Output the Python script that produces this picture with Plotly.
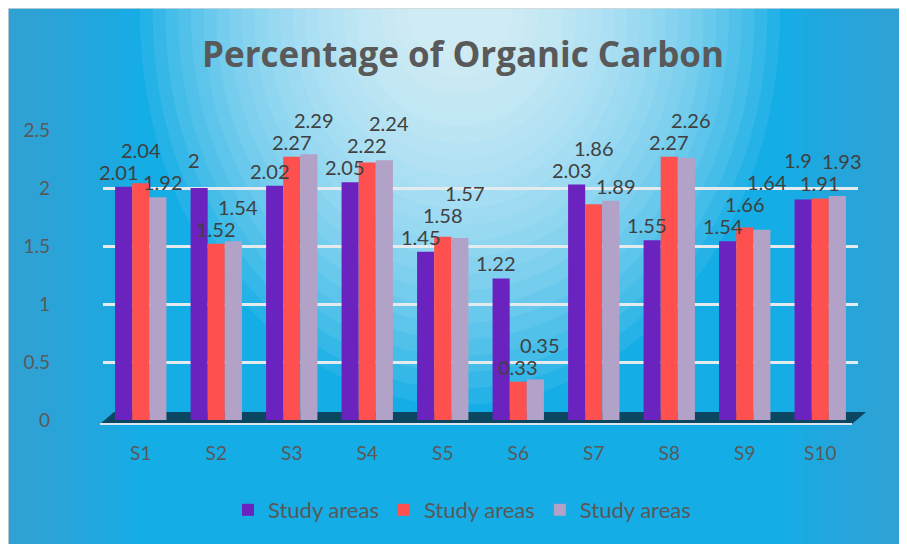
import plotly.graph_objects as go

categories = ["S1", "S2", "S3", "S4", "S5", "S6", "S7", "S8", "S9", "S10"]
series_a = [2.01, 2, 2.02, 2.05, 1.45, 1.22, 2.03, 1.55, 1.54, 1.9]
series_b = [2.04, 1.52, 2.27, 2.22, 1.58, 0.33, 1.86, 2.27, 1.66, 1.91]
series_c = [1.92, 1.54, 2.29, 2.24, 1.57, 0.35, 1.89, 2.26, 1.64, 1.93]
series_names = ["Study areas", "Study areas", "Study areas"]
colors = ["#6b23bf", "#ff5050", "#b3a2c7"]
y_ticks = [0, 0.5, 1, 1.5, 2, 2.5]

W, H = 907, 544
OFF = 8  # page body margin: picture coords = figure coords + 8
L, R, T, B = 12, 49, 122, 132
PW, PH = W - L - R, H - T - B
BARGAP = 0.32
Y_MAX = 2.5
DOM = (103, 858)  # in picture pixels


def px(x):
    return (x - OFF - L) / PW


def py(y):
    return (H - B - (y - OFF)) / PH


fig = go.Figure()
for vals, name, col in zip([series_a, series_b, series_c], series_names, colors):
    fig.add_trace(go.Bar(
        x=categories, y=vals, name=name,
        marker=dict(color=col, line=dict(width=0)),
        cliponaxis=False,
    ))

# data labels, pushed up so that they do not collide
bar_w = (1 - BARGAP) / 3
unit_px = PH / Y_MAX
cat_px = (DOM[1] - DOM[0]) / len(categories)
label_style = [(-bar_w, -5), (0.0, 0), (bar_w, 5)]
LW, LH = 44, 22
placed = []
annotations = []
for i in range(len(categories)):
    for vals, (off, xs) in zip([series_a, series_b, series_c], label_style):
        v = vals[i]
        xc = (i + off) * cat_px + xs
        y = v * unit_px + 2
        moved = True
        while moved:
            moved = False
            for (qx, qy) in placed:
                if abs(xc - qx) < LW and y < qy + LH and y + LH > qy:
                    y = qy + LH
                    moved = True
        placed.append((xc, y))
        annotations.append(dict(
            x=i + off, y=v, xref="x", yref="y", text=f"{v:g}", showarrow=False,
            xanchor="center", yanchor="bottom", xshift=xs, yshift=y - v * unit_px,
            borderpad=0, font=dict(size=20, color="#404040", family="Lato"),
        ))

shapes = []
# edge tint stripes
for i in range(8):
    w = 15 + i * 16
    for x0, x1 in [(0, 8 + w), (915 - w, 920)]:
        shapes.append(dict(type="rect", xref="paper", yref="paper",
                           x0=px(x0), x1=px(x1), y0=py(560), y1=py(0),
                           fillcolor="rgba(80,160,195,0.09)", line=dict(width=0), layer="below"))
# white glow at top centre
N = 22
for i in range(N):
    f = 1 - i / N
    rx = 40 + 280 * f
    ry = 30 + 360 * f
    cx, cy = 460, 15
    shapes.append(dict(type="circle", xref="paper", yref="paper",
                       x0=px(cx - rx), x1=px(cx + rx), y0=py(cy + ry), y1=py(cy - ry),
                       fillcolor="rgba(255,255,255,0.075)", line=dict(width=0), layer="below"))
# thin border of the chart area
shapes.append(dict(type="rect", xref="paper", yref="paper",
                   x0=px(8), x1=px(920), y0=py(560), y1=py(8),
                   fillcolor="rgba(0,0,0,0)", line=dict(color="#d6d6d6", width=1.5), layer="below"))
# floor
shapes.append(dict(type="path", xref="paper", yref="paper",
                   path=f"M {px(100)},{py(424)} L {px(852)},{py(424)} L {px(866)},{py(412)} L {px(114)},{py(412)} Z",
                   fillcolor="#0b4760", line=dict(width=0), layer="below"))
shapes.append(dict(type="line", xref="paper", yref="paper",
                   x0=px(100), x1=px(852), y0=py(424), y1=py(424),
                   line=dict(color="#d9e6ee", width=2), layer="below"))

fig.update_layout(
    width=W, height=H,
    margin=dict(l=L, r=R, t=T, b=B),
    paper_bgcolor="#14ade6",
    plot_bgcolor="rgba(0,0,0,0)",
    font=dict(family="Lato", color="#595959"),
    title=dict(text="<b>Percentage of Organic Carbon</b>", x=(463 - OFF) / W,
               xanchor="center", y=1 - (55 - OFF) / H, yanchor="middle",
               font=dict(size=35, color="#595959", family="Open Sans")),
    barmode="group", bargap=BARGAP, bargroupgap=0,
    showlegend=True,
    legend=dict(orientation="h", x=px(462), xanchor="center", y=py(510), yanchor="middle",
                font=dict(size=22, color="#595959"), bgcolor="rgba(0,0,0,0)",
                itemwidth=30, tracegroupgap=0),
    shapes=shapes,
    annotations=annotations,
    xaxis=dict(domain=[px(DOM[0]), px(DOM[1])], range=[-0.5, len(categories) - 0.5],
               showgrid=False, showline=False, zeroline=False,
               tickfont=dict(size=19, color="#595959"), ticklabelstandoff=20,
               ticks=""),
    yaxis=dict(range=[0, Y_MAX], tickvals=y_ticks, anchor="free", position=px(50),
               showgrid=True, gridcolor="#e4ebef", gridwidth=2.5, zeroline=False,
               showline=False, tickfont=dict(size=19, color="#595959"), ticks=""),
)

fig.write_html("out.html")
